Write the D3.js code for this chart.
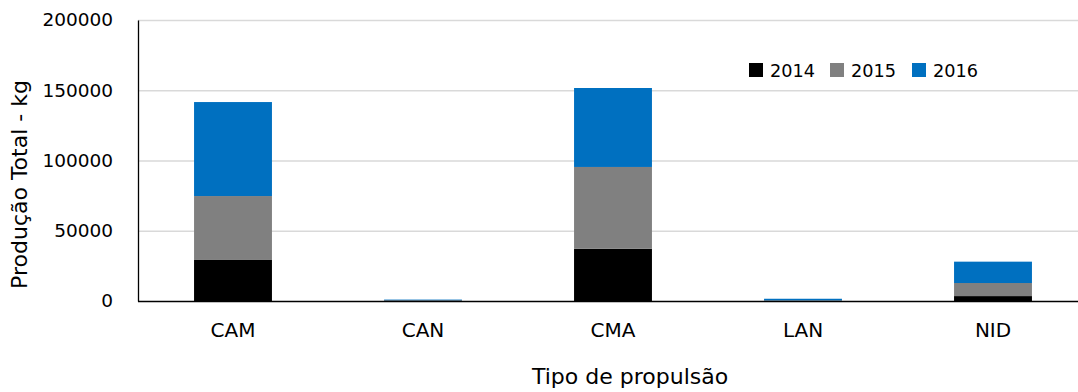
<!DOCTYPE html>
<html>
<head>
<meta charset="utf-8">
<script src="https://cdn.jsdelivr.net/npm/d3@7"></script>
<style>
  html, body { margin: 0; padding: 0; background: #fff; }
  svg { display: block; font-family: "DejaVu Sans", sans-serif; }
</style>
</head>
<body>
<svg id="chart" width="1078" height="392"></svg>
<script>
// Production by propulsion type, stacked by year
const categories = ["CAM", "CAN", "CMA", "LAN", "NID"];
const years = ["2014", "2015", "2016"];
const values2014 = [29200, 300, 37200, 150, 3500];
const values2015 = [45500, 200, 58200, 250, 9300];
const values2016 = [66900, 500, 56200, 1200, 15200];
const yTicks = [0, 50000, 100000, 150000, 200000];
const colors = ["#000000", "#808080", "#0070c0"];

const rows = categories.map((c, i) => ({
  cat: c,
  "2014": values2014[i],
  "2015": values2015[i],
  "2016": values2016[i]
}));

const svg = d3.select("#chart");
const plotLeft = 138, plotRight = 1088, plotTop = 20, plotBottom = 301;

const x = d3.scaleBand().domain(categories).range([plotLeft, plotRight]).paddingInner(0.59).paddingOuter(0.295);
const y = d3.scaleLinear().domain([0, 200000]).range([plotBottom, plotTop]);

// gridlines
svg.append("g").selectAll("line").data(yTicks.filter(t => t > 0)).join("line")
  .attr("x1", plotLeft).attr("x2", 1078)
  .attr("y1", d => y(d) + 0.5).attr("y2", d => y(d) + 0.5)
  .attr("stroke", "#d9d9d9").attr("stroke-width", 1.3);

// stacked bars
const stack = d3.stack().keys(years)(rows);
svg.append("g").selectAll("g").data(stack).join("g")
  .attr("fill", (d, i) => colors[i])
  .selectAll("rect").data(d => d).join("rect")
  .attr("x", d => x(d.data.cat))
  .attr("width", x.bandwidth())
  .attr("y", d => y(d[1]))
  .attr("height", d => y(d[0]) - y(d[1]));

// y axis
const yAxis = svg.append("g").attr("transform", `translate(${plotLeft},0)`)
  .call(d3.axisLeft(y).tickValues(yTicks).tickSize(0).tickPadding(25).tickFormat(d3.format("d")));
yAxis.select(".domain").attr("stroke", "#000").attr("stroke-width", 1.3);
yAxis.selectAll("text").attr("font-size", 18.5).attr("fill", "#000").attr("font-family", "DejaVu Sans");

// x axis
const xAxis = svg.append("g").attr("transform", `translate(0,${plotBottom})`)
  .call(d3.axisBottom(x).tickSize(0).tickPadding(22));
xAxis.select(".domain").attr("d", `M${plotLeft},0.5H1078`).attr("stroke", "#000").attr("stroke-width", 1.3);
xAxis.selectAll("text").attr("font-size", 20).attr("fill", "#000").attr("font-family", "DejaVu Sans");

// axis titles
svg.append("text")
  .attr("transform", `translate(27,184.5) rotate(-90)`)
  .attr("text-anchor", "middle")
  .attr("font-size", 22)
  .text("Produção Total - kg");
svg.append("text")
  .attr("x", 532).attr("y", 384)
  .attr("text-anchor", "start")
  .attr("font-size", 22)
  .text("Tipo de propulsão");

// legend
const legendX = [749, 830, 912];
const legend = svg.append("g").selectAll("g").data(years).join("g")
  .attr("transform", (d, i) => `translate(${legendX[i]},63)`);
legend.append("rect").attr("width", 14).attr("height", 14).attr("fill", (d, i) => colors[i]);
legend.append("text").attr("x", 21).attr("y", 14).attr("font-size", 17.7).text(d => d);
</script>
</body>
</html>
